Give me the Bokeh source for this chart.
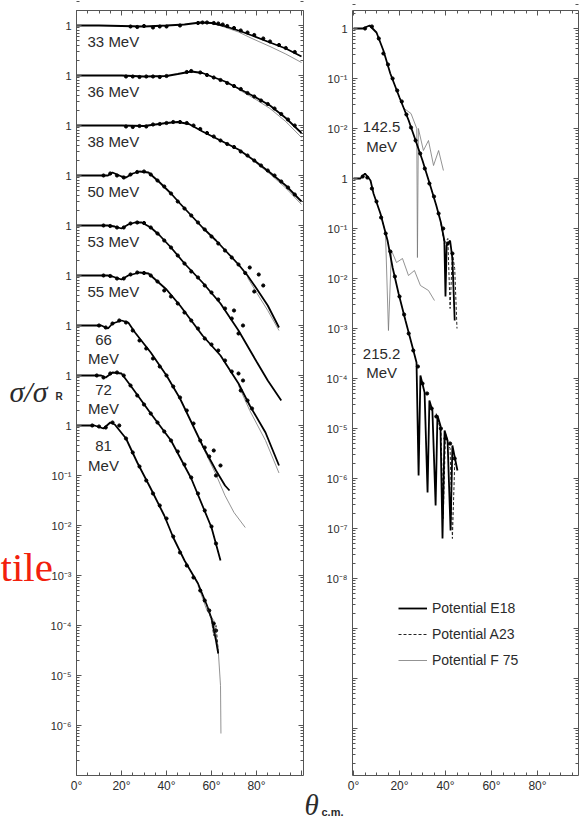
import numpy as np
from bokeh.plotting import figure
from bokeh.models import Range1d, LinearAxis, FixedTicker, Label, Legend, LegendItem
from bokeh.embed import file_html
from bokeh.resources import INLINE
from bokeh.core.properties import value

# ---------------- data: angle (deg c.m.) and log10(sigma/sigma_R) ----------------
# Left panel (each curve shifted up by its offset in decades)
e33_deg = [0, 10, 20, 30, 40, 48, 55, 60, 65, 72, 78, 86, 93, 100]
e33_log = [0, 0, -0.01, -0.02, 0, 0.02, 0.06, 0.05, 0, -0.1, -0.2, -0.34, -0.46, -0.62]
f33_deg = [60, 65, 72, 78, 86, 93, 100]
f33_log = [0.05, -0.02, -0.13, -0.26, -0.42, -0.57, -0.74]
d33_deg = [24, 27, 30, 34, 37, 40, 46, 54, 56, 58, 61, 63, 65, 67, 70, 73, 76, 79, 83, 86, 90, 93, 97]
d33_log = [-0.02, -0.03, -0.01, -0.04, -0.02, -0.02, 0, 0.05, 0.06, 0.06, 0.05, 0.04, 0.02, -0.01,
           -0.05, -0.1, -0.14, -0.19, -0.26, -0.32, -0.39, -0.45, -0.53]

e36_deg = [0, 20, 30, 40, 45, 51, 56, 60, 66, 72, 79, 86, 93, 100]
e36_log = [0, 0, -0.02, -0.01, 0.03, 0.08, 0.05, -0.02, -0.12, -0.26, -0.42, -0.6, -0.85, -1.15]
f36_deg = [72, 79, 86, 93, 100]
f36_log = [-0.28, -0.46, -0.66, -0.92, -1.24]
d36_deg = [22, 25, 28, 31, 34, 37, 40, 49, 51, 55, 58, 61, 64, 67, 70, 73, 76, 79, 82, 85, 88, 91, 94, 97]
d36_log = [-0.02, -0.02, -0.03, -0.02, -0.02, -0.03, -0.01, 0.07, 0.09, 0.06, 0.01, -0.04, -0.09,
           -0.15, -0.21, -0.27, -0.35, -0.42, -0.5, -0.57, -0.66, -0.77, -0.88, -1.0]

e38_deg = [0, 20, 30, 35, 40, 45, 50, 56, 64, 72, 79, 86, 93, 100]
e38_log = [0, 0, -0.01, 0.02, 0.05, 0.07, 0.03, -0.12, -0.3, -0.48, -0.7, -0.94, -1.2, -1.52]
f38_deg = [79, 86, 93, 100]
f38_log = [-0.72, -0.97, -1.25, -1.58]
d38_deg = [22, 25, 28, 31, 34, 37, 40, 43, 46, 49, 52, 55, 58, 61, 64, 67, 70, 73, 76, 79, 82, 85,
           88, 91, 94, 97]
d38_log = [-0.02, -0.03, -0.01, -0.02, 0.02, 0.03, 0.05, 0.07, 0.07, 0.05, 0, -0.07, -0.15, -0.22,
           -0.3, -0.37, -0.43, -0.52, -0.6, -0.7, -0.8, -0.9, -1.0, -1.12, -1.24, -1.38]

e50_deg = [0, 14, 16, 20, 22, 25, 28, 32, 34, 37, 42, 46, 51, 56, 62, 67, 72, 76, 80, 85, 90]
e50_log = [0, 0, 0.06, -0.02, -0.04, 0.04, 0.08, 0.06, -0.02, -0.14, -0.36, -0.56, -0.8, -1.04,
           -1.3, -1.54, -1.78, -2.0, -2.26, -2.6, -3.04]
f50_deg = [76, 80, 85, 90]
f50_log = [-2.04, -2.34, -2.7, -3.1]
d50_deg = [12, 15, 18, 21, 24, 27, 30, 33, 36, 39, 42, 45, 48, 51, 54, 57, 60, 63, 66, 69, 72, 75,
           77, 79, 81, 83]
d50_log = [0, 0.04, 0, -0.04, 0.02, 0.07, 0.08, 0.02, -0.1, -0.22, -0.36, -0.52, -0.66, -0.8,
           -0.94, -1.08, -1.22, -1.36, -1.5, -1.64, -1.78, -1.95, -1.84, -2.32, -1.98, -2.2]

e53_deg = [0, 14, 17, 20, 23, 26, 29, 33, 37, 42, 48, 56, 64, 72, 80, 85, 91]
e53_log = [0, 0, -0.02, -0.06, 0.02, 0.06, 0.06, -0.04, -0.2, -0.44, -0.76, -1.14, -1.56, -2.1,
           -2.72, -3.1, -3.5]
d53_deg = [12, 15, 18, 21, 24, 27, 30, 33, 36, 39, 42, 45, 48, 51, 54, 57, 60, 63, 66, 69, 70, 72, 74]
d53_log = [0, -0.01, -0.04, -0.04, 0.04, 0.06, 0.05, -0.04, -0.16, -0.3, -0.44, -0.6, -0.76,
           -0.92, -1.04, -1.2, -1.34, -1.48, -1.66, -1.86, -1.7, -2.16, -2.0]

e55_deg = [0, 14, 16, 20, 23, 28, 32, 35, 40, 46, 56, 64, 72, 77, 84, 90]
e55_log = [0, 0, -0.02, -0.08, 0, 0.06, 0.04, -0.08, -0.28, -0.6, -1.2, -1.6, -2.16, -2.6, -3.14, -3.8]
f55_deg = [72, 77, 84, 90]
f55_log = [-2.2, -2.7, -3.3, -3.95]
d55_deg = [12, 15, 18, 21, 24, 27, 30, 33, 36, 39, 42, 45, 48, 51, 54, 57, 60, 63, 66, 69, 72, 73,
           74, 76, 78]
d55_log = [0, -0.01, -0.06, -0.06, 0.02, 0.06, 0.05, 0, -0.12, -0.3, -0.42, -0.56, -0.74, -0.9,
           -1.06, -1.26, -1.38, -1.5, -1.7, -1.92, -1.96, -2.3, -2.1, -2.5, -2.66]

e66_deg = [0, 11, 14, 16, 20, 23, 26, 33, 40, 46, 56, 62, 66, 68]
e66_log = [0, 0, -0.06, 0.04, 0.1, 0.06, -0.14, -0.54, -1.0, -1.46, -2.4, -2.9, -3.2, -3.3]
f66_deg = [56, 62, 66, 70, 75]
f66_log = [-2.42, -2.98, -3.4, -3.74, -4.04]
d66_deg = [10, 13, 16, 19, 22, 25, 28, 31, 34, 37, 40, 43, 46, 49, 52, 55, 57, 59, 61, 62, 64]
d66_log = [0, -0.04, 0.04, 0.1, 0.06, -0.1, -0.3, -0.46, -0.66, -0.82, -1.0, -1.22, -1.44, -1.7,
           -1.96, -2.3, -2.44, -2.62, -2.5, -3.0, -2.8]

e72_deg = [0, 11, 13, 16, 20, 24, 33, 42, 51, 60, 64]
e72_log = [0, 0, -0.04, 0.06, 0.04, -0.2, -0.76, -1.3, -2.06, -3.04, -3.7]
d72_deg = [9, 12, 15, 18, 21, 24, 27, 30, 33, 36, 39, 42, 45, 48, 51, 54, 57, 60, 62]
d72_log = [0, -0.04, 0.04, 0.06, 0, -0.2, -0.4, -0.58, -0.76, -0.94, -1.12, -1.3, -1.52, -1.78,
           -2.04, -2.36, -2.7, -3.02, -3.36]

e81_deg = [0, 8, 12, 15, 17, 22, 27, 33, 39, 43, 48, 54, 58, 60, 62, 63]
e81_log = [0, 0, -0.06, 0.06, 0.02, -0.26, -0.74, -1.26, -1.8, -2.24, -2.7, -3.16, -3.6, -3.86,
           -4.3, -4.56]
f81_deg = [54, 58, 61, 63, 64, 64.2]
f81_log = [-3.2, -3.7, -3.9, -4.5, -5.2, -6.16]
a81_deg = [58, 60, 61, 62, 63]
a81_log = [-3.6, -3.9, -4.2, -4.0, -4.5]
d81_deg = [7, 10, 13, 16, 19, 22, 25, 28, 31, 34, 37, 40, 43, 46, 49, 52, 55, 57, 59, 61, 62]
d81_log = [0, -0.02, -0.04, 0.06, 0, -0.26, -0.54, -0.82, -1.1, -1.36, -1.6, -1.86, -2.22, -2.54,
           -2.8, -3.04, -3.3, -3.5, -3.7, -3.96, -4.1]

# Right panel
e142_deg = [0, 4, 7, 10, 13, 16, 20, 24, 27, 30, 33.5, 36, 38, 39.5, 40, 40.5, 42, 43, 44]
e142_log = [0, 0, 0.06, -0.08, -0.44, -0.9, -1.38, -1.84, -2.24, -2.64, -3.16, -3.54, -3.88,
            -4.24, -5.36, -4.34, -4.24, -4.6, -5.84]
f142_deg = [22, 25, 27.5, 27.8, 28.2, 30.4, 32.6, 34.8, 37, 39.1]
f142_log = [-1.6, -1.7, -2.0, -4.58, -2.0, -2.44, -2.24, -2.74, -2.44, -2.84]
a142_deg = [38, 39.5, 41, 42, 43, 44, 45]
a142_log = [-3.9, -4.3, -4.2, -5.6, -4.5, -4.8, -6.0]
d142_deg = [5, 8, 11, 13, 15, 17, 19, 21, 23, 25, 27, 29, 31, 33, 35, 37, 39, 41, 43]
d142_log = [0, 0.04, -0.2, -0.5, -0.72, -1.0, -1.24, -1.46, -1.72, -1.98, -2.24, -2.5, -2.8,
            -3.1, -3.36, -3.7, -4.0, -4.3, -4.5]

e215_deg = [0, 3, 5, 7.4, 8.7, 11.7, 14.8, 17, 19.6, 22.6, 25.7, 27.4, 28.3, 29.1, 30.9, 32.2, 33,
            34.3, 35.7, 36.5, 37.8, 38.7, 39.6, 40.9, 42.2, 43, 44.3, 45.2]
e215_log = [0, 0, 0.1, -0.04, -0.3, -0.7, -1.24, -1.78, -2.3, -2.84, -3.38, -3.68, -5.94, -3.94,
            -4.28, -6.28, -4.44, -4.64, -6.54, -4.74, -4.94, -7.2, -5.04, -5.24, -7.04, -5.34,
            -5.64, -5.84]
f215_deg = [11.7, 13.9, 15.2, 16.5, 18.7, 21.3, 23.9, 26.5, 29.1, 32.6, 35.2]
f215_log = [-0.7, -1.08, -3.04, -1.44, -1.68, -1.6, -1.94, -1.84, -2.14, -2.24, -2.44]
a215_deg = [36, 37, 38, 39, 40, 41, 42, 43, 44]
a215_log = [-4.7, -4.9, -5.0, -6.8, -5.1, -5.3, -5.4, -7.2, -5.7]
d215_deg = [4, 6, 8, 10, 12, 14, 16, 18, 20, 22, 24, 26, 28, 30, 32, 34, 36, 38, 40, 42, 44]
d215_log = [0.04, 0.02, -0.2, -0.46, -0.78, -1.1, -1.46, -1.96, -2.36, -2.72, -3.1, -3.44, -3.76,
            -4.1, -4.3, -4.6, -4.76, -5.0, -5.2, -5.3, -5.6]

left_energies = ["33 MeV", "36 MeV", "38 MeV", "50 MeV", "53 MeV", "55 MeV", "66\nMeV", "72\nMeV", "81\nMeV"]
left_offsets = [8, 7, 6, 5, 4, 3, 2, 1, 0]
right_energies = ["142.5\nMeV", "215.2\nMeV"]
right_offsets = [3, 0]

x_ticks = [0, 20, 40, 60, 80, 100]
x_tick_labels = ["0°", "20°", "40°", "60°", "80°", ""]
left_y_ticks = list(range(-6, 9))
left_y_labels = ["10⁻⁶", "10⁻⁵", "10⁻⁴", "10⁻³", "10⁻²", "10⁻¹", "1", "1", "1", "1", "1", "1", "1", "1", "1"]
right_y_ticks = list(range(-11, 4))
right_y_labels = ["", "", "", "10⁻⁸", "10⁻⁷", "10⁻⁶", "10⁻⁵", "10⁻⁴", "10⁻³", "10⁻²", "10⁻¹", "1",
                  "10⁻²", "10⁻¹", "1"]
legend_labels = ["Potential E18", "Potential A23", "Potential F 75"]

# ---------------- layout (canvas pixels) ----------------
W, H = 580, 822
# left panel: 0 deg at x=76, 2.25 px/deg; "1" of the offset-0 curve at y=425, 50 px/decade
L_X0, L_PXD, L_Y0 = 76, 2.25, 425
R_X0, R_PXD, R_Y0 = 353, 2.3, 178
DEC = 50.0
L_BOX = (76, 303, 10, 775)    # frame left, right, top, bottom
R_BOX = (352, 578, 10, 775)

SANS = "Liberation Sans"
SERIF = "Liberation Serif"
INK = "#2b2b2b"
FRAME = "#555555"


def xr(x0, pxd):
    return Range1d(-x0 / pxd, (W - x0) / pxd)


def yr(y0):
    return Range1d((y0 - H) / DEC, y0 / DEC)


p = figure(width=W, height=H, x_range=xr(L_X0, L_PXD), y_range=yr(L_Y0),
           output_backend="svg", toolbar_location=None, title=None,
           x_axis_location=None, y_axis_location=None,
           min_border_left=0, min_border_right=0, min_border_top=0, min_border_bottom=0)
p.extra_x_ranges = {"xr": xr(R_X0, R_PXD)}
p.extra_y_ranges = {"yr": yr(R_Y0)}
p.xgrid.visible = False
p.ygrid.visible = False
p.outline_line_color = None
p.background_fill_color = "white"
p.border_fill_color = "white"


def minor_log(lo, hi):
    out = []
    for d in range(lo, hi + 1):
        for k in range(2, 10):
            out.append(d + np.log10(k))
    return out


def add_frame(box, x0, pxd, y0, yticks, ylabels, xname="default", yname="default"):
    l, r, t, b = box
    xl, xh = (l - x0) / pxd, (r - x0) / pxd
    yl, yh = (y0 - b) / DEC, (y0 - t) / DEC
    xt = FixedTicker(ticks=x_ticks, minor_ticks=list(range(0, 101, 5)))
    yt = FixedTicker(ticks=yticks, minor_ticks=minor_log(int(np.floor(yl)), int(np.ceil(yh))))
    specs = [("below", xt, yl, (xl, xh), dict(zip(x_ticks, x_tick_labels))),
             ("above", xt, yh, (xl, xh), None),
             ("left", yt, xl, (yl, yh), dict(zip(yticks, ylabels))),
             ("right", yt, xh, (yl, yh), None)]
    for place, tk, loc, bnd, labels in specs:
        ax = LinearAxis(ticker=tk, fixed_location=loc, bounds=bnd,
                        x_range_name=xname, y_range_name=yname)
        ax.axis_line_color = FRAME
        ax.major_tick_line_color = FRAME
        ax.minor_tick_line_color = FRAME
        ax.major_tick_in = 5
        ax.major_tick_out = 0
        ax.minor_tick_in = 3
        ax.minor_tick_out = 0
        ax.major_label_text_color = INK
        ax.major_label_text_font = SANS
        if labels is None:
            ax.major_label_overrides = {tt: "" for tt in tk.ticks}
            ax.major_label_text_font_size = "0px"
        else:
            ax.major_label_overrides = labels
            if place == "below":
                ax.major_label_text_font_size = "12px"
                ax.major_label_standoff = 3
            else:
                ax.major_label_text_font_size = "11px"
                ax.major_label_standoff = 5
        p.add_layout(ax, place)


add_frame(L_BOX, L_X0, L_PXD, L_Y0, left_y_ticks, left_y_labels)
add_frame(R_BOX, R_X0, R_PXD, R_Y0, right_y_ticks, right_y_labels, "xr", "yr")

E18 = dict(line_color="black", line_width=1.8)
A23 = dict(line_color="#222222", line_width=1.0, line_dash="3 2")
F75 = dict(line_color="#777777", line_width=0.8)
DOT = dict(size=3.2, color="black")


def sh(vals, off):
    return [v + off for v in vals]


# ---------------- left panel ----------------
left_sets = [
    (e33_deg, e33_log, f33_deg, f33_log, d33_deg, d33_log),
    (e36_deg, e36_log, f36_deg, f36_log, d36_deg, d36_log),
    (e38_deg, e38_log, f38_deg, f38_log, d38_deg, d38_log),
    (e50_deg, e50_log, f50_deg, f50_log, d50_deg, d50_log),
    (e53_deg, e53_log, None, None, d53_deg, d53_log),
    (e55_deg, e55_log, f55_deg, f55_log, d55_deg, d55_log),
    (e66_deg, e66_log, f66_deg, f66_log, d66_deg, d66_log),
    (e72_deg, e72_log, None, None, d72_deg, d72_log),
    (e81_deg, e81_log, f81_deg, f81_log, d81_deg, d81_log),
]
for off, (ed, el, fd, fl, dd, dl) in zip(left_offsets, left_sets):
    if fd is not None:
        p.line(fd, sh(fl, off), **F75)
    p.line(ed, sh(el, off), **E18)
    p.scatter(dd, sh(dl, off), **DOT)
p.line(a81_deg, sh(a81_log, 0), **A23)

single = [(e, o) for e, o in zip(left_energies, left_offsets) if "\n" not in e]
multi = [(e, o) for e, o in zip(left_energies, left_offsets) if "\n" in e]
p.text(x=[4.9] * len(single), y=[o - 0.32 for _, o in single], text=[e for e, _ in single],
       text_font=value(SANS), text_font_size="15px", text_color=INK,
       text_align="left", text_baseline="middle")
p.text(x=[12] * len(multi), y=[o - (0.6 if o == 0 else 0.47) for _, o in multi],
       text=[e for e, _ in multi], text_font=value(SANS), text_font_size="15px", text_color=INK,
       text_align="center", text_baseline="middle", text_line_height=1.15)

# ---------------- right panel ----------------
right_sets = [
    (e142_deg, e142_log, f142_deg, f142_log, a142_deg, a142_log, d142_deg, d142_log),
    (e215_deg, e215_log, f215_deg, f215_log, a215_deg, a215_log, d215_deg, d215_log),
]
RK = dict(x_range_name="xr", y_range_name="yr")
rend = {}
for off, (ed, el, fd, fl, ad, al, dd, dl) in zip(right_offsets, right_sets):
    rf = p.line(fd, sh(fl, off), **F75, **RK)
    ra = p.line(ad, sh(al, off), **A23, **RK)
    re = p.line(ed, sh(el, off), **E18, **RK)
    p.scatter(dd, sh(dl, off), **DOT, **RK)
    rend.setdefault("E18", re)
    rend.setdefault("A23", ra)
    rend.setdefault("F75", rf)

p.text(x=[12.2, 12.2], y=[0.84, -3.69], text=right_energies, text_font=value(SANS),
       text_font_size="15px", text_color=INK, text_align="center", text_baseline="middle",
       text_line_height=1.15, **RK)

legend = Legend(items=[LegendItem(label=legend_labels[0], renderers=[rend["E18"]]),
                       LegendItem(label=legend_labels[1], renderers=[rend["A23"]]),
                       LegendItem(label=legend_labels[2], renderers=[rend["F75"]])],
                location=(398, H - 670), padding=0, margin=0, spacing=6,
                glyph_width=29, glyph_height=20, label_height=20, label_standoff=5,
                label_text_font=SANS, label_text_font_size="14px", label_text_color=INK,
                border_line_alpha=0, background_fill_alpha=0)
p.add_layout(legend)

# ---------------- free texts (screen units = canvas, y from bottom) ----------------
p.add_layout(Label(x=0, y=H - 566, x_units="screen", y_units="screen", text="tile",
                   text_font=SERIF, text_font_size="41px", text_color="#f2200c",
                   text_align="left", text_baseline="alphabetic"))
p.add_layout(Label(x=9, y=H - 391, x_units="screen", y_units="screen", text="σ/σ",
                   text_font=SERIF, text_font_style="italic", text_font_size="30px",
                   text_color=INK, text_baseline="alphabetic"))
p.add_layout(Label(x=55, y=H - 396, x_units="screen", y_units="screen", text="R",
                   text_font=SANS, text_font_style="bold", text_font_size="10px",
                   text_color=INK, text_baseline="alphabetic"))
p.add_layout(Label(x=304, y=2, x_units="screen", y_units="screen", text="θ",
                   text_font=SERIF, text_font_style="italic", text_font_size="29px",
                   text_color=INK, text_baseline="bottom"))
p.add_layout(Label(x=321, y=5, x_units="screen", y_units="screen", text="c.m.",
                   text_font=SANS, text_font_style="bold", text_font_size="11px",
                   text_color=INK, text_baseline="bottom"))

open("out.html", "w").write(file_html(p, INLINE))
